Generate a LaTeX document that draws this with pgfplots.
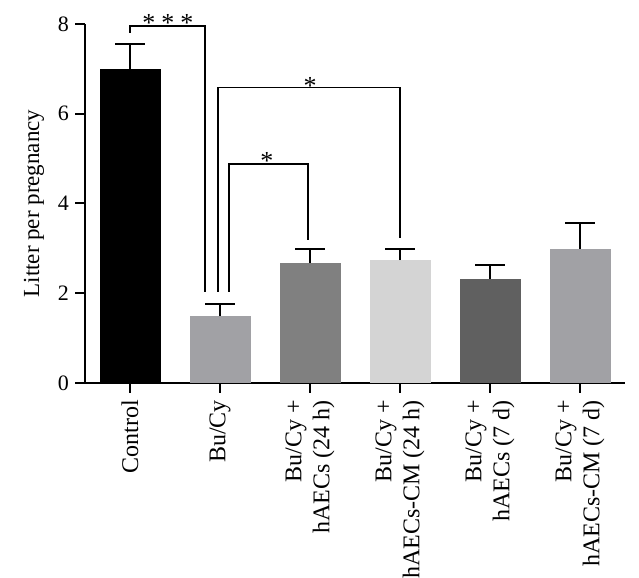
\documentclass[border=0pt]{standalone}
\usepackage{pgfplots}
\pgfplotsset{compat=1.18}
\usepackage{fontspec}
\setmainfont{Liberation Serif}
\definecolor{cBu}{HTML}{A1A1A5}
\definecolor{cH24}{HTML}{808080}
\definecolor{cCM24}{HTML}{D4D4D4}
\definecolor{cH7}{HTML}{606060}
\definecolor{cCM7}{HTML}{A1A1A5}
\begin{document}
\begin{tikzpicture}
\begin{axis}[
  name=ax,
  scale only axis, width=270pt, height=179.5pt,
  xmin=-0.5, xmax=5.5, ymin=0, ymax=8,
  axis x line*=bottom, axis y line*=left,
  axis line style={line width=1pt, -},
  ytick={0,2,4,6,8},
  xtick={0,1,2,3,4,5},
  xticklabels={Control, Bu/Cy, {Bu/Cy +\\hAECs (24 h)}, {Bu/Cy +\\hAECs-CM (24 h)}, {Bu/Cy +\\hAECs (7 d)}, {Bu/Cy +\\hAECs-CM (7 d)}},
  xticklabel style={rotate=90, anchor=east, align=right, font=\fontsize{12}{14}\selectfont},
  yticklabel style={font=\fontsize{11}{12}\selectfont, xshift=0.5pt},
  tick style={line width=1pt, black},
  tick align=outside, major tick length=5pt,
  ylabel={Litter per pregnancy},
  ylabel style={font=\fontsize{11.5}{13}\selectfont, yshift=0pt},
  /pgf/number format/assume math mode=true,
  ybar, bar width=30.5pt, bar shift=0pt,
  clip=false,
  error bars/y dir=plus, error bars/y explicit,
  error bars/error bar style={line width=1pt, black},
  error bars/error mark options={rotate=90, mark size=7.5pt, line width=1pt, black},
]
\addplot[fill=black, draw=none] coordinates {(0,7.0) +- (0,0.56)};
\addplot[fill=cBu, draw=none] coordinates {(1,1.49) +- (0,0.28)};
\addplot[fill=cH24, draw=none] coordinates {(2,2.67) +- (0,0.31)};
\addplot[fill=cCM24, draw=none] coordinates {(3,2.74) +- (0,0.24)};
\addplot[fill=cH7, draw=none] coordinates {(4,2.32) +- (0,0.32)};
\addplot[fill=cCM7, draw=none] coordinates {(5,2.99) +- (0,0.57)};
% significance brackets
\draw[line width=0.75pt] (axis cs:0,7.8) -- (axis cs:0,7.96) -- (axis cs:0.833,7.96) -- (axis cs:0.833,2.03);
\draw[line width=0.75pt] (axis cs:0.978,2.03) -- (axis cs:0.978,6.59) -- (axis cs:3.0,6.59) -- (axis cs:3.0,3.23);
\draw[line width=0.75pt] (axis cs:1.1,2.03) -- (axis cs:1.1,4.88) -- (axis cs:1.98,4.88) -- (axis cs:1.98,3.18);
\node[anchor=base, font=\fontsize{13}{15}\selectfont] at (axis cs:0.42,7.83) {*\hspace{3pt}*\hspace{3pt}*};
\node[anchor=base, font=\fontsize{13}{15}\selectfont] at (axis cs:2.0,6.43) {*};
\node[anchor=base, font=\fontsize{13}{15}\selectfont] at (axis cs:1.52,4.76) {*};
\end{axis}
\pgfresetboundingbox
\path ([shift={(-42.5pt,-97.5pt)}]ax.south west) rectangle ([shift={(7pt,12pt)}]ax.north east);
\end{tikzpicture}
\end{document}
